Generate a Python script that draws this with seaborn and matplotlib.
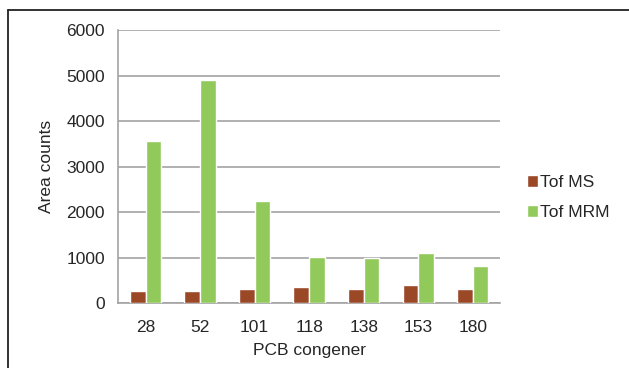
import matplotlib
matplotlib.use("Agg")
import matplotlib.pyplot as plt
from matplotlib.lines import Line2D
from matplotlib.ticker import FixedLocator
import seaborn as sns
import pandas as pd

congeners = ["28", "52", "101", "118", "138", "153", "180"]
tof_ms = [265, 265, 322, 358, 322, 410, 322]
tof_mrm = [3565, 4910, 2246, 1010, 988, 1097, 812]
series_names = ["Tof MS", "Tof MRM"]
y_ticks = [0, 1000, 2000, 3000, 4000, 5000, 6000]

df = pd.DataFrame({
    "PCB congener": congeners * 2,
    "Area counts": tof_ms + tof_mrm,
    "series": [series_names[0]] * len(congeners) + [series_names[1]] * len(congeners),
})

sns.set_style("white")
plt.rcParams["font.family"] = ["Liberation Sans", "DejaVu Sans"]
text_c = "#262626"

W, H = 629, 368
fig = plt.figure(figsize=(W / 100, H / 100), dpi=100)
ax = fig.add_axes([118.3 / W, 1 - 303.3 / H, (500 - 118.3) / W, (303.3 - 30) / H])

palette = {"Tof MS": "#9B4827", "Tof MRM": "#92C95B"}
sns.barplot(data=df, x="PCB congener", y="Area counts", hue="series",
            order=congeners, hue_order=series_names, palette=palette,
            width=0.575, saturation=1, ax=ax, zorder=3)

grid_c = "#A3A3A3"
ax.set_ylim(0, 6000)
ax.set_xlim(-0.5, len(congeners) - 0.5)
ax.set_yticks(y_ticks)
ax.yaxis.grid(True, color=grid_c, linewidth=1.2, zorder=0)
ax.set_axisbelow(True)
for side in ["top", "right"]:
    ax.spines[side].set_visible(False)
for side in ["left", "bottom"]:
    ax.spines[side].set_color(grid_c)
    ax.spines[side].set_linewidth(1.2)

ax.tick_params(axis="x", which="major", length=0, pad=12, labelsize=12.5, labelcolor=text_c)
ax.xaxis.set_minor_locator(FixedLocator([i - 0.5 for i in range(len(congeners) + 1)]))
ax.tick_params(axis="x", which="minor", length=3.6, width=1.0, color=grid_c, direction="out")
ax.tick_params(axis="y", length=3.6, width=1.0, color=grid_c, direction="out",
               pad=6, labelsize=12.5, labelcolor=text_c)

ax.set_xlabel("PCB congener", fontsize=12.5, labelpad=6, color=text_c)
ax.set_ylabel("Area counts", fontsize=12.5, labelpad=9, color=text_c)

ax.legend(loc="upper left", bbox_to_anchor=(527 / W, 1 - 175 / H),
          bbox_transform=fig.transFigure, frameon=False, borderpad=0, borderaxespad=0,
          fontsize=12.5, handlelength=0.66, handleheight=0.66,
          handletextpad=0.1, labelspacing=0.85, title=None, labelcolor=text_c)

# outer frame lines along the top and left edges
fig.add_artist(Line2D([8 / W, 1.0], [1 - 10 / H, 1 - 10 / H],
                      transform=fig.transFigure, color="#222222", linewidth=1.3))
fig.add_artist(Line2D([8 / W, 8 / W], [0.0, 1 - 10 / H],
                      transform=fig.transFigure, color="#222222", linewidth=1.3))

fig.savefig("out.png", dpi=100)
